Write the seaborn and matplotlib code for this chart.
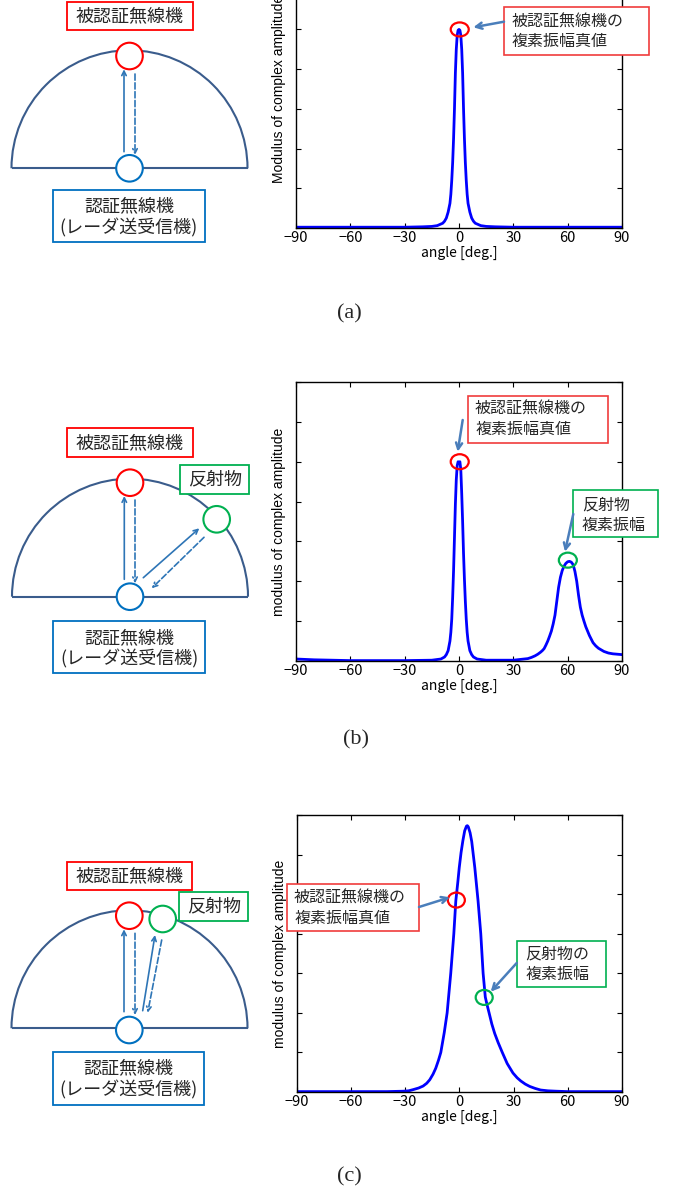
import matplotlib
matplotlib.use("Agg")
import matplotlib.pyplot as plt
import seaborn as sns
from matplotlib.patches import Ellipse, Rectangle, Arc, Circle

# ---------------- data ----------------
ANGLE_A = [-90, -60, -30, -20, -15, -12, -9, -8, -7, -6, -5, -4.5, -4, -3.5, -3, -2.5, -2, -1.5, -1, -0.5,
           0, 0.5, 1, 1.5, 2, 2.5, 3, 3.5, 4, 4.5, 5, 6, 7, 8, 9, 12, 15, 20, 30, 60, 90]
AMP_A = [0.02, 0.02, 0.02, 0.03, 0.04, 0.06, 0.12, 0.17, 0.25, 0.4, 0.62, 0.85, 1.2, 1.65, 2.25, 3.0, 3.9, 4.5, 4.85, 4.98,
         5.0, 4.98, 4.85, 4.5, 3.9, 3.0, 2.25, 1.65, 1.2, 0.85, 0.62, 0.4, 0.25, 0.17, 0.12, 0.06, 0.04, 0.03, 0.02, 0.02, 0.02]

ANGLE_B = [-90, -80, -70, -60, -30, -15, -10, -8, -7, -6, -5, -4.5, -4, -3.5, -3, -2.5, -2, -1.5, -1, -0.5,
           0, 0.5, 1, 1.5, 2, 2.5, 3, 3.5, 4, 4.5, 5, 6, 7, 8, 10, 15, 30, 38, 40, 42, 43.5, 45, 46, 47, 48,
           49, 50, 51, 52, 53, 54, 55, 56, 57, 58, 59, 60, 61, 62, 63, 64, 65, 66, 67, 68, 69, 70, 71, 72,
           74, 75.5, 77, 78.5, 80, 82.5, 85, 87.5, 90]
AMP_B = [0.05, 0.03, 0.02, 0.01, 0.01, 0.02, 0.05, 0.1, 0.16, 0.26, 0.5, 0.72, 1.05, 1.6, 2.27, 3.1, 3.93, 4.55, 4.9, 5.0,
         4.97, 5.0, 4.8, 4.2, 3.5, 2.7, 2.05, 1.5, 1.05, 0.72, 0.5, 0.26, 0.16, 0.1, 0.05, 0.02, 0.02, 0.06, 0.09, 0.13, 0.17, 0.22, 0.26, 0.31, 0.4,
         0.5, 0.62, 0.75, 0.93, 1.15, 1.5, 1.85, 2.1, 2.27, 2.38, 2.45, 2.49, 2.5, 2.48, 2.42, 2.25, 2.0, 1.65, 1.35, 1.15, 1.0, 0.86, 0.75, 0.64,
         0.46, 0.38, 0.32, 0.28, 0.24, 0.2, 0.18, 0.17, 0.16]

ANGLE_C = [-90, -60, -40, -31, -28, -25.5, -22.5, -20, -18, -16.3, -14.5, -13, -11.5, -10.2, -8.3, -6.7, -4.7, -3, -1.9,
           -0.8, 0, 1, 2, 3, 4, 4.5, 5, 6, 6.9, 8.6, 10.4, 11.9, 13.2, 14.4, 15.4, 16.5, 18, 19.6, 21.5, 23.8,
           26.5, 29.7, 32, 34, 36.5, 39, 42, 45, 49, 53.7, 60, 90]
AMP_C = [0.01, 0.01, 0.01, 0.02, 0.03, 0.06, 0.1, 0.15, 0.22, 0.31, 0.45, 0.6, 0.8, 1.0, 1.5, 2.0, 3.0, 4.0, 4.83,
         5.3, 5.67, 6.05, 6.35, 6.6, 6.72, 6.73, 6.7, 6.55, 6.33, 5.67, 4.83, 4.0, 3.0, 2.4, 2.2, 2.0, 1.72, 1.48, 1.25, 1.0,
         0.72, 0.48, 0.36, 0.28, 0.2, 0.14, 0.09, 0.05, 0.03, 0.02, 0.01, 0.01]

XTICKS = [-90, -60, -30, 0, 30, 60, 90]
XTICK_LABELS = ["\u221290", "\u221260", "\u221230", "0", "30", "60", "90"]
YTICKS = [0, 1, 2, 3, 4, 5, 6, 7]
YLABELS = ["Modulus of complex amplitude", "modulus of complex amplitude", "modulus of complex amplitude"]
XLABEL = "angle [deg.]"
PANEL_LABELS = ["(a)", "(b)", "(c)"]

TXT_TARGET = "被認証無線機"
TXT_RADAR = ["認証無線機", "(レーダ送受信機)"]
TXT_REFL = "反射物"
ANN_TRUE = ["被認証無線機の", "複素振幅真値"]
ANN_REFL_B = ["反射物", "複素振幅"]
ANN_REFL_C = ["反射物の", "複素振幅"]

# annotation circle markers on the curves: (angle, amplitude, colour)
MARK_A = [(0.4, 5.0, "red")]
MARK_B = [(0.4, 5.0, "red"), (60.1, 2.53, "green")]
MARK_C = [(-1.6, 4.85, "red"), (13.8, 2.39, "green")]

# ---------------- style ----------------
sns.set_theme(style="ticks")
CJK = ["Noto Sans CJK JP", "DejaVu Sans"]
plt.rcParams["font.family"] = CJK
plt.rcParams["axes.unicode_minus"] = True

W, H = 674, 1193
fig = plt.figure(figsize=(W / 100, H / 100), dpi=100)
fig.patch.set_facecolor("white")

RED, GREEN, BLUE = "#FF0000", "#00B050", "#0070C0"
ARC_C = "#3A5C8C"
ARROW_C = "#2E75B6"
ANN_ARROW = "#4A7EBB"


def frac_rect(left, top, right, bottom):
    return [left / W, 1 - bottom / H, (right - left) / W, (bottom - top) / H]


AX_BOX = [(296, -50, 622, 228), (296, 382, 622, 661), (296.5, 815, 622, 1092)]
curves = [(ANGLE_A, AMP_A, MARK_A), (ANGLE_B, AMP_B, MARK_B), (ANGLE_C, AMP_C, MARK_C)]
CIRC_PX = [(18, 14), (18, 15), (17, 15)]

for i, (ang, amp, marks) in enumerate(curves):
    box = AX_BOX[i]
    ax = fig.add_axes(frac_rect(*box))
    sns.lineplot(x=ang, y=amp, ax=ax, color="#0000FF", linewidth=2.0)
    ax.set_xlim(-90, 90)
    ax.set_ylim(0, 7)
    ax.set_xticks(XTICKS)
    ax.set_xticklabels(XTICK_LABELS)
    ax.set_yticks(YTICKS)
    ax.set_yticklabels([])
    ax.tick_params(direction="in", top=True, right=True, length=3.5, width=0.8,
                   labelsize=10.5, pad=2, colors="black")
    ax.set_xlabel(XLABEL, fontsize=10, labelpad=1, color="black")
    ax.set_ylabel(YLABELS[i], fontsize=10, family=["Liberation Sans", "DejaVu Sans"],
                  labelpad=5, color="black")
    for s in ax.spines.values():
        s.set_color("black")
        s.set_linewidth(1.0)
        s.set_visible(True)
    ppd = (box[2] - box[0]) / 180.0
    ppu = (box[3] - box[1]) / 7.0
    cw, ch = CIRC_PX[i]
    for (mx, my, mc) in marks:
        ax.add_patch(Ellipse((mx, my), cw / ppd, ch / ppu, fill=False,
                             edgecolor=(RED if mc == "red" else GREEN), lw=1.6,
                             clip_on=False, zorder=5))

# ---------------- overlay in pixel coordinates ----------------
ov = fig.add_axes([0, 0, 1, 1], zorder=10)
ov.set_xlim(0, W)
ov.set_ylim(H, 0)
ov.axis("off")
ov.patch.set_alpha(0)


def rect(x0, y0, x1, y1, ec, lw=1.3):
    ov.add_patch(Rectangle((x0, y0), x1 - x0, y1 - y0, facecolor="white",
                           edgecolor=ec, lw=lw, zorder=3))


def arrow(p0, p1, color, lw=1.3, ls="-", ms=9):
    ov.annotate("", xy=p1, xytext=p0,
                arrowprops=dict(arrowstyle="->", color=color, lw=lw, linestyle=ls,
                                shrinkA=0, shrinkB=0, mutation_scale=ms), zorder=4)


DIAGRAMS = [
    dict(cx=129.5, base=168.3, red=(129.5, 56), blue=(129.5, 168.3), green=None,
         red_box=(66.7, 1.7, 192.7, 30), green_box=None,
         blue_box=(53.3, 190, 204.5, 241.7), blue_lines=(206.7, 228.3),
         arrows=[((124, 151.7), (124, 69.3), "-"), ((135, 74), (135, 155), "--")]),
    dict(cx=130, base=596.7, red=(130, 482.7), blue=(130, 596.7), green=(216.7, 519.3),
         red_box=(66.7, 428.3, 192.7, 457.3), green_box=(180, 465, 249.3, 494),
         blue_box=(53.3, 620.7, 205, 672.7), blue_lines=(638.3, 659.3),
         arrows=[((124.3, 579.3), (124.3, 496), "-"), ((135, 500), (135, 583.3), "--"),
                 ((143.3, 577.7), (199.3, 528.3), "-"), ((204, 537.3), (151.7, 588.3), "--")]),
    dict(cx=129.5, base=1028.3, red=(129.3, 915.7), blue=(129.3, 1030), green=(162.7, 919),
         red_box=(66.7, 861.7, 192.3, 890), green_box=(179, 891.7, 248.3, 921),
         blue_box=(53.3, 1052.3, 204, 1105), blue_lines=(1068.3, 1090),
         arrows=[((124, 1011.7), (124, 929.3), "-"), ((135, 933.3), (135, 1015), "--"),
                 ((142.7, 1010.7), (155, 935), "-"), ((161.7, 940), (147.7, 1012.7), "--")]),
]
R_ARC = 118
R_DOT = 13.3
FS_DIAG = 13

for d in DIAGRAMS:
    ov.add_patch(Arc((d["cx"], d["base"]), 2 * R_ARC, 2 * R_ARC, theta1=180, theta2=360,
                     color=ARC_C, lw=1.5, zorder=1))
    ov.plot([d["cx"] - R_ARC, d["cx"] + R_ARC], [d["base"], d["base"]], color=ARC_C,
            lw=1.5, zorder=1, solid_capstyle="butt")
    for key, col in (("red", RED), ("blue", BLUE), ("green", GREEN)):
        if d[key] is not None:
            ov.add_patch(Circle(d[key], R_DOT, facecolor="white", edgecolor=col, lw=1.5, zorder=2))
    for p0, p1, ls in d["arrows"]:
        arrow(p0, p1, ARROW_C, lw=1.2, ls=ls, ms=8)
    x0, y0, x1, y1 = d["red_box"]
    rect(x0, y0, x1, y1, RED)
    ov.text((x0 + x1) / 2, (y0 + y1) / 2, TXT_TARGET, fontsize=FS_DIAG, ha="center",
            va="center", zorder=5)
    if d["green_box"] is not None:
        x0, y0, x1, y1 = d["green_box"]
        rect(x0, y0, x1, y1, GREEN)
        ov.text((x0 + x1) / 2, (y0 + y1) / 2, TXT_REFL, fontsize=FS_DIAG, ha="center",
                va="center", zorder=5)
    x0, y0, x1, y1 = d["blue_box"]
    rect(x0, y0, x1, y1, BLUE)
    for t, yy in zip(TXT_RADAR, d["blue_lines"]):
        ov.text((x0 + x1) / 2, yy, t, fontsize=FS_DIAG, ha="center", va="center", zorder=5)

# plot annotation boxes
ANNOTS = [
    [((504.3, 7.3, 649.3, 55), "#F03C3C", ANN_TRUE, 511.7, (21.7, 41.7), (504, 21.7), (473.3, 27.3))],
    [((467.7, 395.7, 608.3, 442.7), "#F03C3C", ANN_TRUE, 475, (409.3, 429.3), (462.7, 420), (457.7, 451.7)),
     ((573, 490, 657.5, 536.7), GREEN, ANN_REFL_B, 581.7, (505, 525), (573.3, 514), (565, 551.7))],
    [((286.7, 884, 419.3, 931), "#F03C3C", ANN_TRUE, 294, (898.3, 918.3), (419, 907), (450, 897.3)),
     ((516.7, 940.7, 605.7, 987.3), GREEN, ANN_REFL_C, 525, (954, 974), (516.7, 963), (490.7, 991.7))],
]
for panel in ANNOTS:
    for (bx, ec, lines, tx, tys, a0, a1) in panel:
        rect(*bx, ec, lw=1.2)
        for t, yy in zip(lines, tys):
            ov.text(tx, yy, t, fontsize=11.5, ha="left", va="center", zorder=5)
        arrow(a0, a1, ANN_ARROW, lw=1.8, ms=11)

PANEL_POS = [(349, 314), (356, 740), (349, 1177)]
for lab, (px, py) in zip(PANEL_LABELS, PANEL_POS):
    ov.text(px, py, lab, fontsize=16, family=["Liberation Serif", "DejaVu Serif"],
            ha="center", va="center")

fig.savefig("out.png", dpi=100, facecolor="white")
